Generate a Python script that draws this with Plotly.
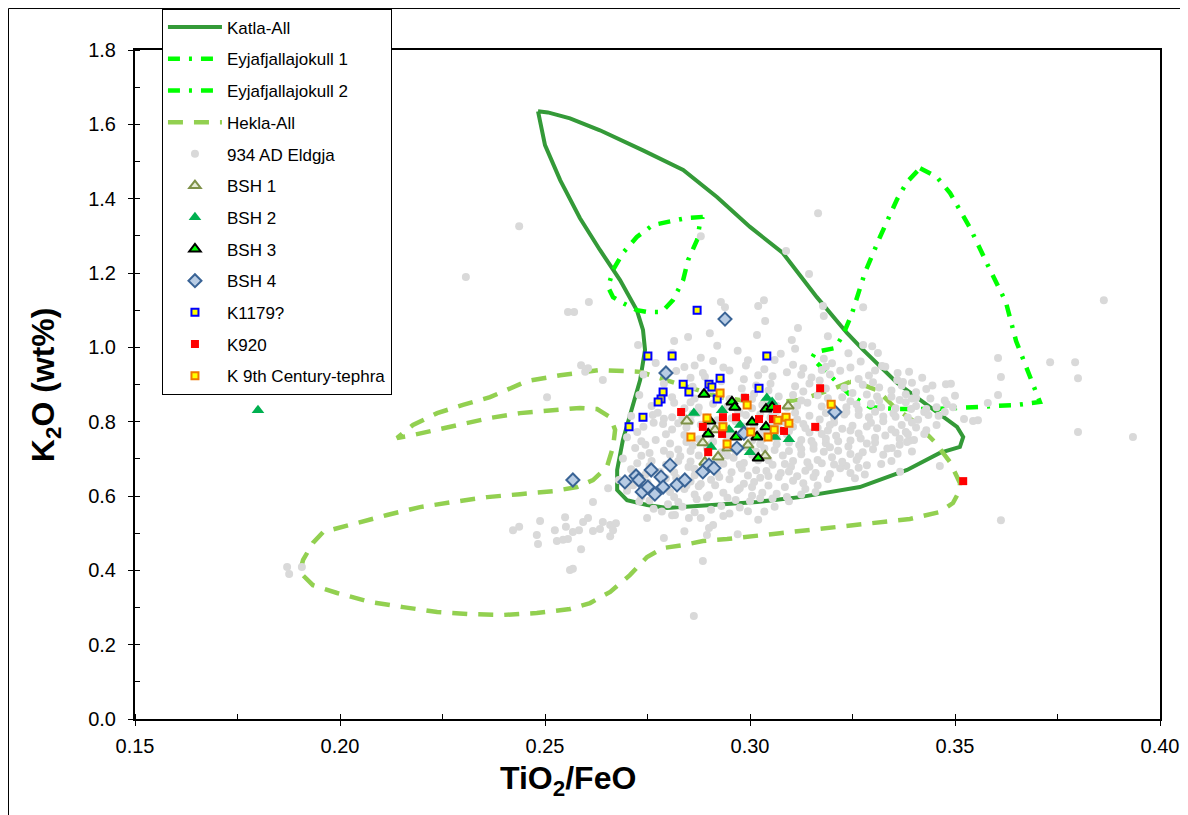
import plotly.graph_objects as go

# ── Outlines (TiO2/FeO, K2O) ─────────────────────────────────────────────────
KATLA = [
    (0.2483, 1.635), (0.2507, 1.632), (0.2561, 1.616), (0.2634, 1.584), (0.2739, 1.530),
    (0.2837, 1.477), (0.2920, 1.404), (0.3000, 1.324), (0.3080, 1.254), (0.3163, 1.135),
    (0.3237, 1.038), (0.3276, 0.993), (0.3359, 0.904), (0.3439, 0.839), (0.3505, 0.786),
    (0.3520, 0.759), (0.3512, 0.732), (0.3463, 0.716), (0.3383, 0.670), (0.3268, 0.624),
    (0.3122, 0.597), (0.3017, 0.584), (0.2902, 0.576), (0.2798, 0.568), (0.2749, 0.576),
    (0.2700, 0.589), (0.2676, 0.616), (0.2676, 0.670), (0.2690, 0.751), (0.2712, 0.831),
    (0.2732, 0.912), (0.2744, 0.993), (0.2739, 1.047), (0.2724, 1.100), (0.2683, 1.181),
    (0.2634, 1.262), (0.2585, 1.348), (0.2537, 1.450), (0.2500, 1.544), (0.2483, 1.635),
]
EYJA_1 = [
    (0.2885, 1.351), (0.2846, 1.348), (0.2810, 1.340), (0.2763, 1.329), (0.2724, 1.297),
    (0.2690, 1.254), (0.2666, 1.208), (0.2654, 1.162), (0.2666, 1.135), (0.2690, 1.119),
    (0.2724, 1.100), (0.2749, 1.095), (0.2785, 1.095), (0.2812, 1.127), (0.2837, 1.181),
    (0.2849, 1.235), (0.2871, 1.289), (0.2878, 1.334), (0.2885, 1.351),
]
EYJA_2 = [
    (0.3415, 1.482), (0.3456, 1.458), (0.3488, 1.415), (0.3537, 1.321), (0.3580, 1.221),
    (0.3624, 1.122), (0.3649, 1.017), (0.3685, 0.915), (0.3707, 0.853), (0.3651, 0.845),
    (0.3554, 0.839), (0.3456, 0.834), (0.3359, 0.834), (0.3293, 0.839), (0.3244, 0.872),
    (0.3195, 0.925), (0.3151, 0.971), (0.3159, 0.987), (0.3207, 0.998), (0.3227, 1.033),
    (0.3249, 1.092), (0.3280, 1.200), (0.3317, 1.297), (0.3359, 1.399), (0.3383, 1.445),
    (0.3415, 1.482),
]
HEKLA = [
    (0.3244, 0.907), (0.3195, 0.885), (0.3122, 0.858), (0.3024, 0.850), (0.2927, 0.866),
    (0.2829, 0.899), (0.2732, 0.934), (0.2634, 0.939), (0.2537, 0.925), (0.2456, 0.909),
    (0.2366, 0.866), (0.2300, 0.845), (0.2237, 0.823), (0.2178, 0.791), (0.2139, 0.756),
    (0.2178, 0.764), (0.2237, 0.778), (0.2300, 0.796), (0.2366, 0.810), (0.2439, 0.823),
    (0.2512, 0.829), (0.2585, 0.837), (0.2627, 0.834), (0.2659, 0.812), (0.2671, 0.778),
    (0.2666, 0.732), (0.2651, 0.678), (0.2617, 0.643), (0.2578, 0.624), (0.2520, 0.613),
    (0.2439, 0.605), (0.2359, 0.597), (0.2276, 0.584), (0.2195, 0.570), (0.2115, 0.549),
    (0.2032, 0.525), (0.1959, 0.503), (0.1934, 0.474), (0.1910, 0.428), (0.1902, 0.395),
    (0.1934, 0.360), (0.1993, 0.339), (0.2073, 0.315), (0.2154, 0.301), (0.2237, 0.288),
    (0.2317, 0.282), (0.2398, 0.280), (0.2480, 0.285), (0.2561, 0.296), (0.2610, 0.312),
    (0.2659, 0.342), (0.2707, 0.387), (0.2749, 0.436), (0.2788, 0.460), (0.2837, 0.468),
    (0.2885, 0.479), (0.2944, 0.484), (0.3073, 0.500), (0.3195, 0.514), (0.3293, 0.525),
    (0.3390, 0.538), (0.3463, 0.557), (0.3495, 0.581), (0.3512, 0.616), (0.3512, 0.635),
    (0.3488, 0.691), (0.3451, 0.745), (0.3402, 0.799), (0.3354, 0.837), (0.3310, 0.885),
    (0.3256, 0.907), (0.3244, 0.907),
]

# ── 934 AD Eldgja glass analyses ─────────────────────────────────────────────
ELDGJA_CORE = [
    (0.281, 0.985), (0.288, 0.972), (0.297, 0.991), (0.304, 0.978), (0.311, 0.996), (0.318, 0.969),
    (0.324, 0.984), (0.292, 1.004),
    (0.277, 0.958), (0.284, 0.947), (0.291, 0.963), (0.299, 0.951), (0.306, 0.966), (0.313, 0.944),
    (0.320, 0.957), (0.327, 0.962), (0.333, 0.948),
    (0.274, 0.927), (0.282, 0.936), (0.289, 0.921), (0.295, 0.938), (0.302, 0.925), (0.309, 0.933),
    (0.315, 0.919), (0.322, 0.937), (0.329, 0.924), (0.336, 0.931), (0.342, 0.918),
    (0.279, 0.903), (0.286, 0.894), (0.293, 0.909), (0.298, 0.889), (0.305, 0.902), (0.311, 0.895),
    (0.317, 0.911), (0.323, 0.891), (0.330, 0.906), (0.337, 0.897), (0.343, 0.888), (0.349, 0.902),
    (0.273, 0.872), (0.281, 0.866), (0.289, 0.879), (0.295, 0.861), (0.301, 0.875), (0.307, 0.868),
    (0.313, 0.881), (0.319, 0.863), (0.325, 0.877), (0.331, 0.868), (0.338, 0.874), (0.344, 0.862),
    (0.350, 0.870),
    (0.276, 0.842), (0.284, 0.836), (0.291, 0.848), (0.297, 0.831), (0.303, 0.845), (0.309, 0.838),
    (0.314, 0.851), (0.320, 0.833), (0.326, 0.846), (0.332, 0.839), (0.338, 0.852), (0.343, 0.834),
    (0.348, 0.847),
    (0.271, 0.815), (0.279, 0.808), (0.286, 0.821), (0.292, 0.804), (0.299, 0.818), (0.305, 0.811),
    (0.311, 0.824), (0.317, 0.806), (0.323, 0.819), (0.329, 0.812), (0.335, 0.822), (0.341, 0.805),
    (0.346, 0.816),
    (0.274, 0.786), (0.281, 0.779), (0.288, 0.792), (0.295, 0.774), (0.301, 0.788), (0.307, 0.781),
    (0.313, 0.794), (0.319, 0.776), (0.325, 0.789), (0.331, 0.782), (0.337, 0.791), (0.343, 0.777),
    (0.270, 0.758), (0.277, 0.751), (0.284, 0.764), (0.291, 0.746), (0.297, 0.761), (0.303, 0.753),
    (0.309, 0.766), (0.315, 0.748), (0.321, 0.762), (0.327, 0.755), (0.333, 0.763), (0.339, 0.749),
    (0.272, 0.729), (0.279, 0.722), (0.286, 0.735), (0.293, 0.718), (0.299, 0.732), (0.306, 0.724),
    (0.312, 0.737), (0.318, 0.719), (0.324, 0.733), (0.330, 0.726), (0.336, 0.714),
    (0.269, 0.701), (0.276, 0.694), (0.283, 0.707), (0.289, 0.689), (0.296, 0.703), (0.302, 0.696),
    (0.308, 0.709), (0.314, 0.691), (0.320, 0.704), (0.326, 0.697), (0.332, 0.686),
    (0.271, 0.672), (0.278, 0.665), (0.285, 0.678), (0.292, 0.661), (0.298, 0.674), (0.304, 0.667),
    (0.310, 0.679), (0.316, 0.662), (0.322, 0.675), (0.328, 0.658),
    (0.268, 0.643), (0.275, 0.636), (0.282, 0.649), (0.288, 0.632), (0.295, 0.645), (0.301, 0.638),
    (0.307, 0.651), (0.313, 0.634), (0.319, 0.646),
    (0.270, 0.614), (0.277, 0.607), (0.284, 0.619), (0.290, 0.602), (0.297, 0.616), (0.303, 0.609),
    (0.309, 0.597), (0.316, 0.611),
    (0.273, 0.585), (0.280, 0.578), (0.287, 0.591), (0.293, 0.573), (0.300, 0.586), (0.306, 0.571),
    (0.281, 0.548), (0.288, 0.541), (0.295, 0.553), (0.302, 0.536), (0.291, 0.522),
    (0.284, 0.505), (0.297, 0.497), (0.279, 0.487),
    (0.2855, 0.852), (0.2935, 0.826), (0.3005, 0.861), (0.3065, 0.829), (0.3125, 0.857),
    (0.3185, 0.823), (0.3245, 0.855), (0.3305, 0.827), (0.3365, 0.858), (0.3425, 0.826),
    (0.2825, 0.796), (0.2895, 0.768), (0.2965, 0.801), (0.3025, 0.769), (0.3085, 0.799),
    (0.3145, 0.771), (0.3205, 0.798), (0.3265, 0.768), (0.3325, 0.801), (0.3385, 0.766),
    (0.2805, 0.741), (0.2875, 0.709), (0.2945, 0.741), (0.3005, 0.711), (0.3065, 0.739),
    (0.3125, 0.712), (0.3185, 0.742), (0.3245, 0.713), (0.3305, 0.744),
    (0.2795, 0.684), (0.2865, 0.656), (0.2935, 0.687), (0.2995, 0.655), (0.3055, 0.684),
    (0.3115, 0.653), (0.3175, 0.688), (0.3235, 0.681),
    (0.2745, 0.625), (0.2815, 0.597), (0.2875, 0.626), (0.2945, 0.595), (0.3005, 0.624),
    (0.3055, 0.593),
]
ELDGJA_FILL = [
    (0.3015, 0.897), (0.3145, 0.903), (0.3275, 0.899), (0.3345, 0.884),
    (0.2985, 0.868), (0.3105, 0.872), (0.3165, 0.871), (0.3225, 0.866), (0.3285, 0.873),
    (0.3345, 0.867), (0.3405, 0.879),
    (0.2945, 0.841), (0.3005, 0.836), (0.3065, 0.843), (0.3175, 0.841), (0.3235, 0.839),
    (0.3295, 0.848), (0.3355, 0.836), (0.3455, 0.839),
    (0.2895, 0.812), (0.2955, 0.809), (0.3025, 0.819), (0.3085, 0.813), (0.3145, 0.816),
    (0.3205, 0.811), (0.3265, 0.818), (0.3325, 0.814), (0.3385, 0.811), (0.3435, 0.818),
    (0.2845, 0.784), (0.2915, 0.781), (0.2985, 0.787), (0.3045, 0.779), (0.3105, 0.786),
    (0.3165, 0.783), (0.3225, 0.781), (0.3285, 0.787), (0.3345, 0.779), (0.3405, 0.784),
    (0.2735, 0.747), (0.2875, 0.753), (0.2945, 0.756), (0.3005, 0.749), (0.3065, 0.756),
    (0.3125, 0.751), (0.3185, 0.754), (0.3245, 0.749), (0.3305, 0.757), (0.3365, 0.754),
    (0.2755, 0.716), (0.2825, 0.725), (0.2895, 0.728), (0.2965, 0.721), (0.3035, 0.728),
    (0.3095, 0.721), (0.3155, 0.727), (0.3215, 0.722), (0.3275, 0.718), (0.3335, 0.728),
    (0.2725, 0.688), (0.2855, 0.693), (0.2925, 0.697), (0.2985, 0.689), (0.3045, 0.696),
    (0.3105, 0.694), (0.3165, 0.697), (0.3225, 0.692), (0.3285, 0.683),
    (0.2745, 0.658), (0.2815, 0.664), (0.2885, 0.668), (0.2955, 0.664), (0.3015, 0.669),
    (0.3075, 0.662), (0.3135, 0.668), (0.3195, 0.659),
    (0.2715, 0.629), (0.2785, 0.634), (0.2855, 0.639), (0.2915, 0.629), (0.2985, 0.633),
    (0.3045, 0.628), (0.3105, 0.641), (0.3165, 0.628),
    (0.2735, 0.598), (0.2805, 0.611), (0.2865, 0.604), (0.2935, 0.609), (0.3005, 0.601),
    (0.3065, 0.606), (0.3125, 0.604),
    (0.2765, 0.566), (0.2835, 0.571), (0.2905, 0.563), (0.2975, 0.569), (0.3035, 0.558),
    (0.2865, 0.951), (0.2935, 0.946), (0.3035, 0.941), (0.3105, 0.953), (0.3175, 0.939),
    (0.3245, 0.946), (0.3305, 0.938), (0.2855, 0.918), (0.2985, 0.914), (0.3125, 0.926),
    (0.3195, 0.927), (0.3265, 0.915), (0.3395, 0.905),
]
ELDGJA_FILL_2 = [
    (0.2905, 0.888), (0.3045, 0.884), (0.3185, 0.889), (0.3315, 0.892), (0.3445, 0.897),
    (0.2865, 0.862), (0.2925, 0.869), (0.3045, 0.858), (0.3195, 0.848), (0.3315, 0.856),
    (0.3395, 0.862), (0.3475, 0.857),
    (0.2815, 0.851), (0.2875, 0.838), (0.3115, 0.843), (0.3265, 0.832), (0.3405, 0.842),
    (0.2775, 0.824), (0.2835, 0.812), (0.2975, 0.823), (0.3055, 0.822), (0.3115, 0.806),
    (0.3235, 0.826), (0.3355, 0.813), (0.3475, 0.826),
    (0.2765, 0.797), (0.2855, 0.801), (0.2935, 0.794), (0.3055, 0.796), (0.3135, 0.783),
    (0.3195, 0.791), (0.3295, 0.797), (0.3395, 0.798), (0.3455, 0.791),
    (0.2725, 0.772), (0.2795, 0.766), (0.2895, 0.784), (0.2955, 0.769), (0.3035, 0.764),
    (0.3095, 0.774), (0.3175, 0.767), (0.3245, 0.776), (0.3355, 0.771), (0.3425, 0.767),
    (0.2745, 0.738), (0.2845, 0.745), (0.2905, 0.739), (0.3025, 0.739), (0.3095, 0.744),
    (0.3155, 0.738), (0.3215, 0.747), (0.3285, 0.741), (0.3365, 0.738),
    (0.2735, 0.708), (0.2805, 0.711), (0.2855, 0.721), (0.2945, 0.709), (0.3015, 0.719),
    (0.3125, 0.726), (0.3195, 0.731), (0.3265, 0.706), (0.3325, 0.711), (0.3395, 0.720),
    (0.2755, 0.681), (0.2825, 0.694), (0.2905, 0.677), (0.2975, 0.684), (0.3085, 0.686),
    (0.3145, 0.679), (0.3205, 0.685), (0.3265, 0.676), (0.3345, 0.694),
    (0.2715, 0.655), (0.2795, 0.648), (0.2865, 0.673), (0.2925, 0.651), (0.3045, 0.654),
    (0.3095, 0.666), (0.3155, 0.651), (0.3245, 0.662),
    (0.2705, 0.628), (0.2785, 0.619), (0.2845, 0.628), (0.2905, 0.644), (0.2975, 0.621),
    (0.3025, 0.649), (0.3085, 0.624), (0.3135, 0.619),
    (0.2755, 0.588), (0.2825, 0.584), (0.2895, 0.596), (0.2965, 0.589), (0.3025, 0.594),
    (0.3095, 0.586),
    (0.2785, 0.558), (0.2865, 0.556), (0.2935, 0.546), (0.2995, 0.559),
    (0.2885, 0.931), (0.3055, 0.922), (0.3185, 0.948), (0.3075, 0.983), (0.2995, 0.965),
]
ELDGJA_SCATTER = [
    # upper and left
    (0.2437, 1.326), (0.2307, 1.189), (0.3166, 1.361), (0.2880, 1.299), (0.3088, 1.259),
    (0.3144, 1.197), (0.2929, 1.122), (0.2939, 1.108), (0.3020, 1.111), (0.3034, 1.127),
    (0.3037, 1.071), (0.3117, 1.052), (0.3178, 1.111), (0.3180, 1.084), (0.3190, 1.030),
    (0.2902, 1.038), (0.2849, 1.028), (0.3017, 1.033), (0.3102, 1.020),
    (0.2607, 1.122), (0.2556, 1.095), (0.2571, 1.095), (0.2727, 1.006), (0.2815, 1.017),
    (0.2588, 0.952), (0.2605, 0.944), (0.2598, 0.934), (0.2641, 0.912), (0.2505, 0.866),
    (0.2763, 0.818), (0.2788, 0.794), (0.2810, 0.812), (0.2873, 0.823),
    # right
    (0.3276, 1.108), (0.3605, 0.971), (0.3732, 0.960), (0.3612, 0.920), (0.3605, 0.872),
    (0.3580, 0.850), (0.3478, 0.901), (0.3388, 0.934), (0.3359, 0.912), (0.3522, 0.807),
    (0.3544, 0.802), (0.3556, 0.804), (0.3373, 0.907), (0.3495, 0.839), (0.3463, 0.681),
    (0.3366, 0.665), (0.3346, 0.729), (0.3383, 0.745), (0.3400, 0.751), (0.3380, 0.772),
    (0.3393, 0.834), (0.3405, 0.864), (0.3322, 0.950), (0.3312, 0.985), (0.3298, 1.003),
    (0.3276, 1.006), (0.3256, 0.648), (0.3800, 0.772), (0.3934, 0.759), (0.3612, 0.535),
    (0.3863, 1.127), (0.3793, 0.960), (0.3800, 0.917),
    # lower left tail
    (0.1871, 0.409), (0.1876, 0.390), (0.1907, 0.409), (0.2422, 0.508), (0.2437, 0.517),
    (0.2488, 0.533), (0.2480, 0.495), (0.2483, 0.471), (0.2524, 0.508), (0.2529, 0.479),
    (0.2549, 0.543), (0.2551, 0.517), (0.2544, 0.482), (0.2556, 0.484), (0.2568, 0.503),
    (0.2583, 0.508), (0.2593, 0.530), (0.2605, 0.541), (0.2588, 0.457), (0.2561, 0.401),
    (0.2568, 0.404), (0.2617, 0.506), (0.2634, 0.511), (0.2641, 0.530), (0.2659, 0.522),
    (0.2666, 0.508), (0.2673, 0.527), (0.2659, 0.492), (0.2617, 0.584), (0.2654, 0.621),
    (0.2749, 0.541), (0.2817, 0.549), (0.2851, 0.541), (0.2885, 0.425), (0.2863, 0.277),
    (0.2900, 0.514), (0.2895, 0.495),
]

# ── Tephra samples ───────────────────────────────────────────────────────────
BSH_1 = [
    (0.2846, 0.802), (0.3093, 0.842), (0.2922, 0.705), (0.3037, 0.708), (0.2885, 0.743),
    (0.2915, 0.778), (0.2890, 0.691), (0.2995, 0.737), (0.2946, 0.729),
]
BSH_2 = [
    (0.1800, 0.831), (0.2863, 0.823), (0.3041, 0.864), (0.2932, 0.831), (0.3095, 0.753),
    (0.3061, 0.759), (0.3000, 0.718), (0.2905, 0.732), (0.2949, 0.778), (0.3054, 0.853),
    (0.2976, 0.791),
]
BSH_3 = [
    (0.2888, 0.874), (0.2956, 0.853), (0.2963, 0.839), (0.3039, 0.834), (0.3054, 0.839),
    (0.3005, 0.799), (0.3039, 0.786), (0.2898, 0.767), (0.2902, 0.802), (0.2966, 0.759),
    (0.3017, 0.759), (0.3020, 0.702),
]
BSH_4 = [
    (0.2568, 0.643), (0.2695, 0.638), (0.2722, 0.654), (0.2729, 0.643), (0.2759, 0.670),
    (0.2737, 0.611), (0.2751, 0.624), (0.2768, 0.605), (0.2783, 0.651), (0.2788, 0.624),
    (0.2805, 0.683), (0.2822, 0.630), (0.2841, 0.643), (0.2885, 0.665), (0.2900, 0.683),
    (0.2912, 0.675), (0.2968, 0.729), (0.2985, 0.769), (0.3207, 0.826), (0.2795, 0.931),
    (0.2939, 1.076),
]
K1179 = [
    (0.2871, 1.100), (0.2751, 0.977), (0.2810, 0.977), (0.3041, 0.977), (0.2837, 0.901),
    (0.2851, 0.880), (0.2788, 0.880), (0.2783, 0.861), (0.2776, 0.853), (0.2739, 0.812),
    (0.2705, 0.786), (0.2900, 0.901), (0.2907, 0.893), (0.2920, 0.861), (0.2927, 0.917),
    (0.3022, 0.890),
]
K920 = [
    (0.2832, 0.826), (0.2885, 0.786), (0.2898, 0.718), (0.2932, 0.767), (0.2934, 0.812),
    (0.2966, 0.812), (0.2988, 0.864), (0.3022, 0.807), (0.3056, 0.807), (0.3066, 0.834),
    (0.3083, 0.775), (0.3159, 0.786), (0.3171, 0.890), (0.3520, 0.640),
]
K_9TH = [
    (0.2927, 0.877), (0.2993, 0.845), (0.2895, 0.810), (0.2934, 0.786), (0.2856, 0.759),
    (0.2944, 0.740), (0.3002, 0.772), (0.3044, 0.759), (0.3059, 0.778), (0.3068, 0.804),
    (0.3088, 0.812), (0.3095, 0.796), (0.3198, 0.847),
]

FONT = "Liberation Sans, Arial, sans-serif"


def xy(points):
    return [p[0] for p in points], [p[1] for p in points]


fig = go.Figure()

outlines = [
    ("Katla-All", KATLA, dict(color="#349A38", width=4)),
    ("Eyjafjallajokull 1", EYJA_1, dict(color="#00FF00", width=4.5, dash="12px,9px,3px,9px")),
    ("Eyjafjallajokull 2", EYJA_2, dict(color="#00FF00", width=4.5, dash="12px,9px,3px,9px")),
    ("Hekla-All", HEKLA, dict(color="#92D050", width=4.5, dash="15px,11px")),
]
for i, (name, pts, line) in enumerate(outlines):
    x, y = xy(pts)
    fig.add_trace(go.Scatter(x=x, y=y, name=name, mode="lines", line=line,
                             legendgroup=f"g{i}"))

ex, ey = xy(ELDGJA_CORE + ELDGJA_FILL + ELDGJA_FILL_2 + ELDGJA_SCATTER)
fig.add_trace(go.Scatter(x=ex, y=ey, name="934 AD Eldgja", mode="markers",
                         marker=dict(color="#D9D9D9", size=8, symbol="circle"),
                         legendgroup="g4"))

samples = [
    ("BSH 1", BSH_1, dict(symbol="triangle-up", size=10, color="#E6ECD4",
                          line=dict(color="#7E9148", width=2))),
    ("BSH 2", BSH_2, dict(symbol="triangle-up", size=11, color="#00B050",
                          line=dict(color="#00B050", width=0))),
    ("BSH 3", BSH_3, dict(symbol="triangle-up", size=10, color="#00FF00",
                          line=dict(color="black", width=2))),
    ("BSH 4", BSH_4, dict(symbol="diamond", size=10, color="#B8CCE4",
                          line=dict(color="#3A6496", width=2))),
    ("K1179?", K1179, dict(symbol="square", size=7, color="#FFFF00",
                           line=dict(color="#0000FF", width=2))),
    ("K920", K920, dict(symbol="square", size=8, color="#FF0000",
                        line=dict(color="#FF0000", width=0))),
    ("K 9th Century-tephra", K_9TH, dict(symbol="square", size=7, color="#FFFF00",
                                        line=dict(color="#F07800", width=2))),
]
for i, (name, pts, marker) in enumerate(samples):
    x, y = xy(pts)
    fig.add_trace(go.Scatter(x=x, y=y, name=name, mode="markers", marker=marker,
                             legendgroup=f"g{i + 5}"))

axis_common = dict(
    showline=True, linecolor="black", linewidth=2, mirror=True,
    ticks="outside", ticklen=5, tickwidth=1, tickcolor="black",
    showgrid=False, zeroline=False,
    tickfont=dict(family=FONT, size=20, color="black"),
)
fig.update_xaxes(**axis_common, range=[0.15, 0.40], dtick=0.05, tickformat=".2f",
                 ticklabelstandoff=3,
                 minor=dict(ticks="inside", ticklen=5, dtick=0.025, tickcolor="black"))
fig.update_yaxes(**axis_common, range=[0, 1.8], dtick=0.2, tickformat=".1f",
                 ticklabelstandoff=8,
                 minor=dict(ticks="inside", ticklen=5, dtick=0.1, tickcolor="black"))

# page body adds an 8px offset, so margins are shifted to land the plot area where the reference has it
fig.update_layout(
    width=1188, height=815,
    margin=dict(l=127, r=36, t=42, b=104, autoexpand=False),
    paper_bgcolor="white", plot_bgcolor="white",
    font=dict(family=FONT, color="black"),
    legend=dict(
        x=0.0263, y=1.062, xanchor="left", yanchor="top",
        bgcolor="white", bordercolor="black", borderwidth=1,
        font=dict(family=FONT, size=17, color="black"),
        tracegroupgap=6.6, itemwidth=54,
    ),
    annotations=[
        dict(text="<b>K<sub>2</sub>O (wt%)</b>", xref="paper", yref="paper",
             x=-0.0878, y=0.499, xanchor="center", yanchor="middle",
             textangle=-90, showarrow=False,
             font=dict(family=FONT, size=32, color="black")),
        dict(text="<b>TiO<sub>2</sub>/FeO</b>", xref="paper", yref="paper",
             x=0.4224, y=-0.0912, xanchor="center", yanchor="middle", showarrow=False,
             font=dict(family=FONT, size=32, color="black")),
    ],
    shapes=[
        dict(type="rect", xref="paper", yref="paper",
             x0=-0.1234, x1=1.0224, y0=-0.2, y1=1.062,
             line=dict(color="black", width=1), layer="below"),
    ],
)

fig.write_html("out.html")
